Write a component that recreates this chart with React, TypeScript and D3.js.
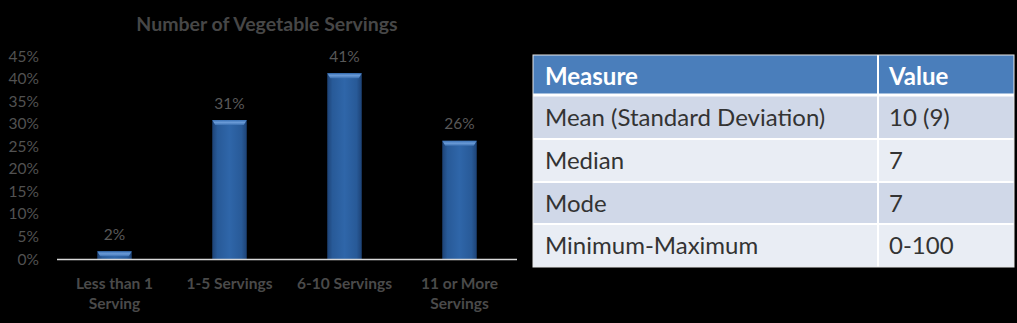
import React from "react";
import * as d3 from "d3";

const categories: string[][] = [["Less than 1", "Serving"], ["1-5 Servings"], ["6-10 Servings"], ["11 or More", "Servings"]];
const values: number[] = [1.7, 30.8, 41.2, 26.2];
const valueLabels: string[] = ["2%", "31%", "41%", "26%"];
const yTicks: number[] = [0, 5, 10, 15, 20, 25, 30, 35, 40, 45];
const chartTitle = "Number of Vegetable Servings";

const tableHeader: string[] = ["Measure", "Value"];
const tableMeasures: string[] = ["Mean (Standard Deviation)", "Median", "Mode", "Minimum-Maximum"];
const tableValues: string[] = ["10 (9)", "7", "7", "0-100"];

const W = 1017;
const H = 323;
const FONT = "Lato, 'Open Sans', sans-serif";

export default function App() {
  const x = d3
    .scaleBand<number>()
    .domain(d3.range(values.length))
    .range([57, 517])
    .paddingInner(0.7)
    .paddingOuter(0.35);
  const y = d3.scaleLinear().domain([0, 45]).range([259, 56]);

  // table geometry
  const tx0 = 533, tx1 = 1014, tcol = 878;
  const rowEdges = [55, 95, 139, 182, 224, 267];
  const rowFills = ["#D0D8E8", "#E9EDF4", "#D0D8E8", "#E9EDF4"];

  return (
    <svg
      width={W}
      height={H}
      style={{ position: "absolute", left: 0, top: 0, display: "block", background: "#000" }}
    >
      <defs>
        <linearGradient id="barGrad" x1="0" x2="1" y1="0" y2="0">
          <stop offset="0" stopColor="#1d4275" />
          <stop offset="0.15" stopColor="#285a98" />
          <stop offset="0.5" stopColor="#2f66a9" />
          <stop offset="0.85" stopColor="#285a98" />
          <stop offset="1" stopColor="#1d4275" />
        </linearGradient>
        <linearGradient id="bevel" x1="0" x2="0" y1="0" y2="1">
          <stop offset="0" stopColor="#3c74b8" />
          <stop offset="0.5" stopColor="#6a9ad6" />
          <stop offset="1" stopColor="#3a6fb0" />
        </linearGradient>
      </defs>
      <rect x={0} y={0} width={W} height={H} fill="#000" />

      {/* Title */}
      <text x={267} y={31} textAnchor="middle" fontFamily={FONT} fontWeight="bold" fontSize={19.5} fill="#474747">
        {chartTitle}
      </text>

      {/* Y ticks */}
      {yTicks.map((t) => (
        <text key={t} x={39} y={y(t) + 5.5} textAnchor="end" fontFamily={FONT} fontSize={15.5} fill="#525252">
          {t + "%"}
        </text>
      ))}

      {/* Bars */}
      {values.map((v, i) => {
        const bx = x(i)!;
        const bw = x.bandwidth();
        const top = y(v);
        const h = y(0) - top;
        const bev = Math.min(5, h);
        return (
          <g key={i}>
            <rect x={bx} y={top} width={bw} height={h} fill="url(#barGrad)" />
            <path
              d={`M${bx},${top} L${bx + bw},${top} L${bx + bw - 3},${top + bev} L${bx + 3},${top + bev} Z`}
              fill="url(#bevel)"
            />
            <text
              x={bx + bw / 2}
              y={top - 11.5}
              textAnchor="middle"
              fontFamily={FONT}
              fontSize={15.5}
              fill="#585858"
            >
              {valueLabels[i]}
            </text>
          </g>
        );
      })}

      {/* Axis line */}
      <line x1={57} x2={517} y1={y(0) + 0.5} y2={y(0) + 0.5} stroke="#d9d9d9" strokeWidth={1.5} />

      {/* Category labels */}
      {categories.map((lines, i) => (
        <text
          key={i}
          x={x(i)! + x.bandwidth() / 2}
          y={288.5}
          textAnchor="middle"
          fontFamily={FONT}
          fontWeight="bold"
          fontSize={15.5}
          fill="#4a4a4a"
        >
          {lines.map((l, j) => (
            <tspan key={j} x={x(i)! + x.bandwidth() / 2} dy={j === 0 ? 0 : 20.5}>
              {l}
            </tspan>
          ))}
        </text>
      ))}

      {/* Table */}
      <rect x={tx0} y={rowEdges[0]} width={tx1 - tx0} height={rowEdges[1] - rowEdges[0]} fill="#4A7EBB" />
      {tableMeasures.map((m, i) => (
        <rect
          key={m}
          x={tx0}
          y={rowEdges[i + 1]}
          width={tx1 - tx0}
          height={rowEdges[i + 2] - rowEdges[i + 1]}
          fill={rowFills[i]}
        />
      ))}
      {rowEdges.slice(1, -1).map((ry, i) => (
        <line key={i} x1={tx0} x2={tx1} y1={ry} y2={ry} stroke="#fff" strokeWidth={i === 0 ? 3 : 2} />
      ))}
      <line x1={tcol} x2={tcol} y1={rowEdges[0]} y2={rowEdges[rowEdges.length - 1]} stroke="#fff" strokeWidth={2} />
      <rect
        x={tx0}
        y={rowEdges[0]}
        width={tx1 - tx0}
        height={rowEdges[rowEdges.length - 1] - rowEdges[0]}
        fill="none"
        stroke="#e8e8e8"
        strokeWidth={1}
      />
      {tableHeader.map((h, i) => (
        <text
          key={h}
          x={i === 0 ? 545 : 889}
          y={84.5}
          fontFamily={FONT}
          fontWeight="bold"
          fontSize={24}
          fill="#fff"
        >
          {h}
        </text>
      ))}
      {tableMeasures.map((m, i) => {
        const cy = (rowEdges[i + 1] + rowEdges[i + 2]) / 2 + 8.5;
        return (
          <g key={m}>
            <text x={545} y={cy} fontFamily={FONT} fontSize={24} fill="#333">
              {m}
            </text>
            <text x={889} y={cy} fontFamily={FONT} fontSize={24} fill="#333">
              {tableValues[i]}
            </text>
          </g>
        );
      })}
    </svg>
  );
}
